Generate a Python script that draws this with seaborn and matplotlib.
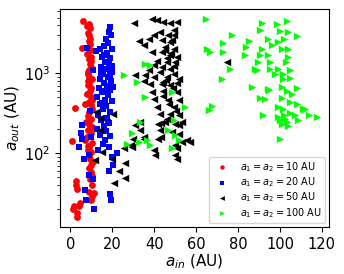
import seaborn as sns
import matplotlib.pyplot as plt

# a1 = a2 = 10 AU
red_x = [6.2, 8.7, 9.2, 9.0, 8.8, 5.6, 9.2, 8.8, 9.3, 8.9, 9.0, 8.5, 9.4, 9.6, 7.1, 2.1, 9.8, 9.0,
         7.5, 9.0, 8.4, 0.8, 7.1, 8.7, 9.6, 9.5, 10.0, 9.6, 2.9, 3.1, 10.3, 11.1, 1.6, 4.0, 3.2,
         10.0, 8.8, 8.2, 9.5, 8.0, 10.0, 8.5, 9.8, 8.0, 10.2, 8.5, 9.8, 10.3, 9.2, 8.0, 10.5, 8.5,
         9.0, 10.8, 8.7, 10.5, 9.3, 2.5, 4.5, 3.0, 10.5, 1.0, 8.2, 10.0, 7.8, 9.5,
         9.6, 8.4, 10.1, 9.1, 8.9, 10.4, 9.7, 8.6]
red_y = [4570, 4180, 3700, 2990, 2510, 2090, 1940, 1520, 1330, 1090, 900, 710, 610, 505, 420, 370,
         400, 330, 245, 235, 195, 142, 145, 120, 104, 86, 71, 58, 40, 36, 40, 32, 22, 22, 16,
         26, 33, 3200, 2700, 1750, 1200, 800, 660, 560, 460, 290, 270, 215, 170, 160, 135, 110,
         95, 78, 65, 52, 48, 45, 24, 18, 29, 20, 980, 1620, 3900, 2300,
         1420, 1030, 850, 760, 440, 360, 180, 125]

# a1 = a2 = 20 AU
blue_x = [19, 18.5, 19.5, 17, 18, 16, 8, 12, 14, 20, 17.5, 15, 19, 16.5, 18.5, 14.5, 17, 11, 20,
          15.5, 18, 14, 19.5, 16, 17.5, 13.5, 19, 15, 18, 12.5, 16.5, 20, 14, 17, 9.5, 15.5, 19,
          13, 17.5, 14.5, 18.5, 5.6, 16, 5, 12.5, 17, 14, 19, 16.7, 4, 18.3, 22.2, 6.3, 20.5,
          18.3, 8.7, 7.1, 7.5, 11.1, 19, 19.3, 15.5, 20, 13, 5.5, 10, 9, 11,
          16, 19.8, 14.8, 18.7, 16.2, 20.3, 15.2, 18.1]
blue_y = [3800, 3300, 3000, 2700, 2400, 2200, 2050, 1900, 2000, 2000, 1800, 1600, 1550, 1400,
          1300, 1200, 1150, 1090, 1050, 980, 900, 850, 800, 750, 700, 650, 620, 580, 540, 500,
          470, 450, 420, 390, 335, 360, 330, 300, 280, 260, 240, 225, 220, 178, 200, 190, 170,
          165, 145, 119, 120, 100, 84, 71, 61, 53, 35, 26, 20, 31, 26, 130, 90, 110, 150, 160,
          95, 48,
          1700, 1250, 1000, 950, 600, 680, 430, 250]

# a1 = a2 = 50 AU
black_x = [30.2, 38.9, 41.3, 44.4, 47.6, 50.8, 42.9, 49.2, 39.7, 49.2, 32.5, 37.3, 43.7, 47.6,
           34.9, 45.2, 49.2, 38.9, 43.7, 47.6, 50.8, 41.3, 46.0, 50.0, 39.7, 43.7, 47.6, 37.3,
           42.9, 49.2, 31.0, 35.7, 39.7, 46.0, 51.6, 34.9, 44.4,
           38.1, 43.7, 47.6, 50.8, 38.9, 44.4, 50.8, 39.7, 46.8, 51.6, 41.3, 49.2, 42.9, 47.6,
           51.6, 33.3, 42.0, 45.2, 50.0, 53.2, 33.3, 42.9, 48.4, 51.6, 30.1, 34.9, 42.0, 55.6,
           53.2, 50.0, 25.4, 29.4, 39.7, 50.0,
           14.3, 15.0, 11.6, 20.0, 23.0, 26.0, 21.0, 26.0, 12.0, 20.5, 14.0,
           31.0, 43.0, 52.0, 57.0, 51.0, 51.0, 40.5, 29.0, 35.0, 43.0, 74.6,
           46.5, 48.5, 45.0, 48.0, 46.0, 49.5, 45.5, 48.8, 44.0, 47.2, 50.2, 46.3]
black_y = [4300, 4800, 4600, 4400, 4300, 4400, 3300, 3450, 2990, 2990, 2510, 2720, 2580, 2480,
           2270, 2150, 2040, 1850, 1850, 1680, 1600, 1450, 1380, 1380, 1260, 1200, 1140, 1090,
           1040, 990, 945, 945, 900, 900, 860, 795, 780,
           740, 740, 710, 760, 580, 610, 580, 484, 460, 460, 380, 380, 314, 314,
           299, 245, 235, 245, 235, 245, 195, 195, 185, 177, 150, 150, 150, 145,
           138, 126, 115, 120, 109, 94,
           195, 103, 82, 86, 61, 75, 43, 49, 330, 315, 275,
           225, 237, 225, 138, 115, 86, 94, 126, 160, 160, 1380,
           3000, 2600, 1950, 1780, 1560, 1250, 820, 650, 520, 410, 340, 270]

# a1 = a2 = 100 AU
green_x = [64.8, 91.3, 98.4, 103.5, 90.5, 100, 104, 108, 77, 73, 85, 94.4, 98.9, 102, 84, 91.3,
           96, 100.8, 104, 65, 66.7, 73, 83.3, 90.5, 94.4, 104, 89.7, 95.2, 103, 76.2, 88, 95.2,
           99.2, 101.6, 97.6, 104.8, 89, 72.2, 101.6, 104.8, 86.5, 94.4, 100.8, 103.2, 108,
           105.6, 90.5, 92.9, 100.8, 104.8, 108, 99.2, 101.6, 111, 67.5, 65.9, 92, 99.2, 102.4,
           107, 114, 117.5, 103.2, 108.7, 100, 112, 101, 104, 100, 102, 105, 94.6,
           25.4, 35.7, 38, 31.7, 35.7, 48.4, 54.8, 33.3, 49.2, 29.4, 27, 32.5, 36.5, 38, 48.4,
           46.8, 50, 51.6]
green_y = [4800, 4300, 4180, 4480, 3450, 3350, 3300, 2930, 2990, 2370, 2510, 2720, 2480, 2720,
           2150, 2040, 2240, 2040, 2040, 2040, 1850, 1850, 1720, 1680, 1680, 1600, 1380, 1380,
           1380, 1140, 1140, 1140, 1140, 990, 990, 1090, 1090, 860, 860, 875, 675, 630, 675,
           595, 655, 560, 493, 484, 493, 439, 420, 380, 363, 363, 390, 345, 299, 285, 270,
           299, 299, 285, 245, 258, 150, 363, 230, 220, 260, 300, 320, 625,
           945, 1320, 1260, 780, 505, 580, 380, 245, 258, 180, 132, 138, 145, 126, 115,
           198, 168, 145]

labels = ['$a_1 = a_2 = 10$ AU', '$a_1 = a_2 = 20$ AU',
          '$a_1 = a_2 = 50$ AU', '$a_1 = a_2 = 100$ AU']

fig, ax = plt.subplots(figsize=(3.44, 2.74), dpi=100)
fig.subplots_adjust(left=0.174, right=0.956, bottom=0.172, top=0.967)

sns.scatterplot(x=red_x, y=red_y, color='red', marker='o', s=24, linewidth=0, label=labels[0], ax=ax)
sns.scatterplot(x=blue_x, y=blue_y, color='blue', marker='s', s=24, linewidth=0, label=labels[1], ax=ax)
sns.scatterplot(x=black_x, y=black_y, color='black', marker='<', s=28, linewidth=0, label=labels[2], ax=ax)
sns.scatterplot(x=green_x, y=green_y, color='lime', marker='>', s=28, linewidth=0, label=labels[3], ax=ax)

ax.set_yscale('log')
ax.set_xlabel('$a_{in}$ (AU)', fontsize=11, labelpad=1)
ax.set_ylabel('$a_{out}$ (AU)', fontsize=11, labelpad=1)
ax.tick_params(labelsize=10.5)
ax.set_xticks([0, 20, 40, 60, 80, 100, 120])
ax.legend(loc='lower right', fontsize=7, labelspacing=0.15, borderpad=0.35,
          borderaxespad=0.4, markerscale=0.65)

plt.savefig('out.png', dpi=100)
